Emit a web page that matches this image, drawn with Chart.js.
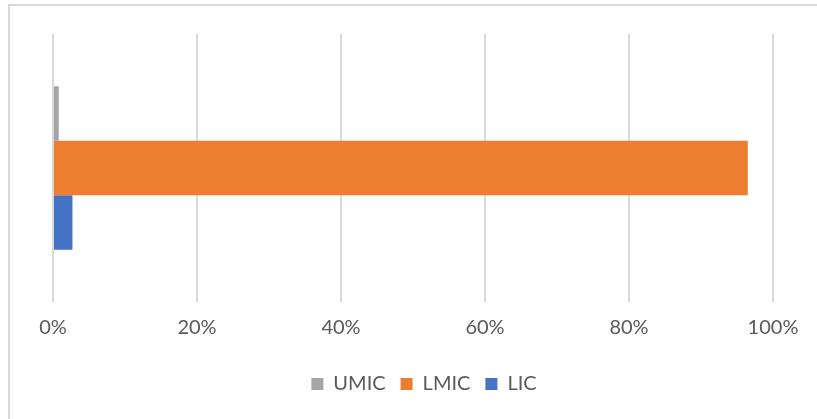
<!DOCTYPE html>
<html>
<head>
<meta charset="utf-8">
<script src="https://cdn.jsdelivr.net/npm/chart.js@4"></script>
<style>
  body { margin: 0; background: #fff; }
  #frame { position: absolute; left: 8px; top: 4px; width: 820px; height: 430px;
           border-left: 2px solid #d9d9d9; border-top: 2px solid #d9d9d9; }
  #chart { position: absolute; left: 0; top: 0; }
</style>
</head>
<body>
<div id="frame"></div>
<canvas id="chart" width="817" height="419"></canvas>
<script>
const categories = ['Share'];
const seriesNames = ['UMIC', 'LMIC', 'LIC'];
const umicValues = [0.8];
const lmicValues = [96.5];
const licValues = [2.7];
const tickValues = [0, 20, 40, 60, 80, 100];

const colors = ['#a5a5a5', '#ed7d31', '#4472c4'];
const seriesData = [umicValues, lmicValues, licValues];

// nudge the legend a little right, like the original
const legendShift = {
    id: 'legendShift',
    afterLayout(chart) {
        chart.legend.left += 11;
        chart.legend.right += 11;
    }
};

const ctx = document.getElementById('chart').getContext('2d');
new Chart(ctx, {
    type: 'bar',
    data: {
        labels: categories,
        datasets: seriesNames.map((name, i) => ({
            label: name,
            data: seriesData[i],
            backgroundColor: colors[i],
            borderWidth: 0,
            categoryPercentage: 0.61,
            barPercentage: 1
        }))
    },
    options: {
        indexAxis: 'y',
        responsive: false,
        animation: false,
        layout: { padding: { left: 53, right: 44, top: 34, bottom: 15 } },
        scales: {
            x: {
                min: 0,
                max: 100,
                afterBuildTicks: s => { s.ticks = tickValues.map(v => ({ value: v })); },
                afterFit: s => { s.height = 57; },
                grid: { color: '#d9d9d9', lineWidth: 2, drawTicks: false },
                border: { display: false },
                ticks: {
                    padding: 14,
                    color: '#595959',
                    font: { family: 'Lato', size: 20 },
                    callback: v => v + '%'
                }
            },
            y: { display: false }
        },
        plugins: {
            legend: {
                position: 'bottom',
                labels: {
                    boxWidth: 12,
                    boxHeight: 12,
                    padding: 15,
                    color: '#595959',
                    font: { family: 'Lato', size: 20 }
                }
            },
            tooltip: { enabled: false }
        }
    },
    plugins: [legendShift]
});
</script>
</body>
</html>
